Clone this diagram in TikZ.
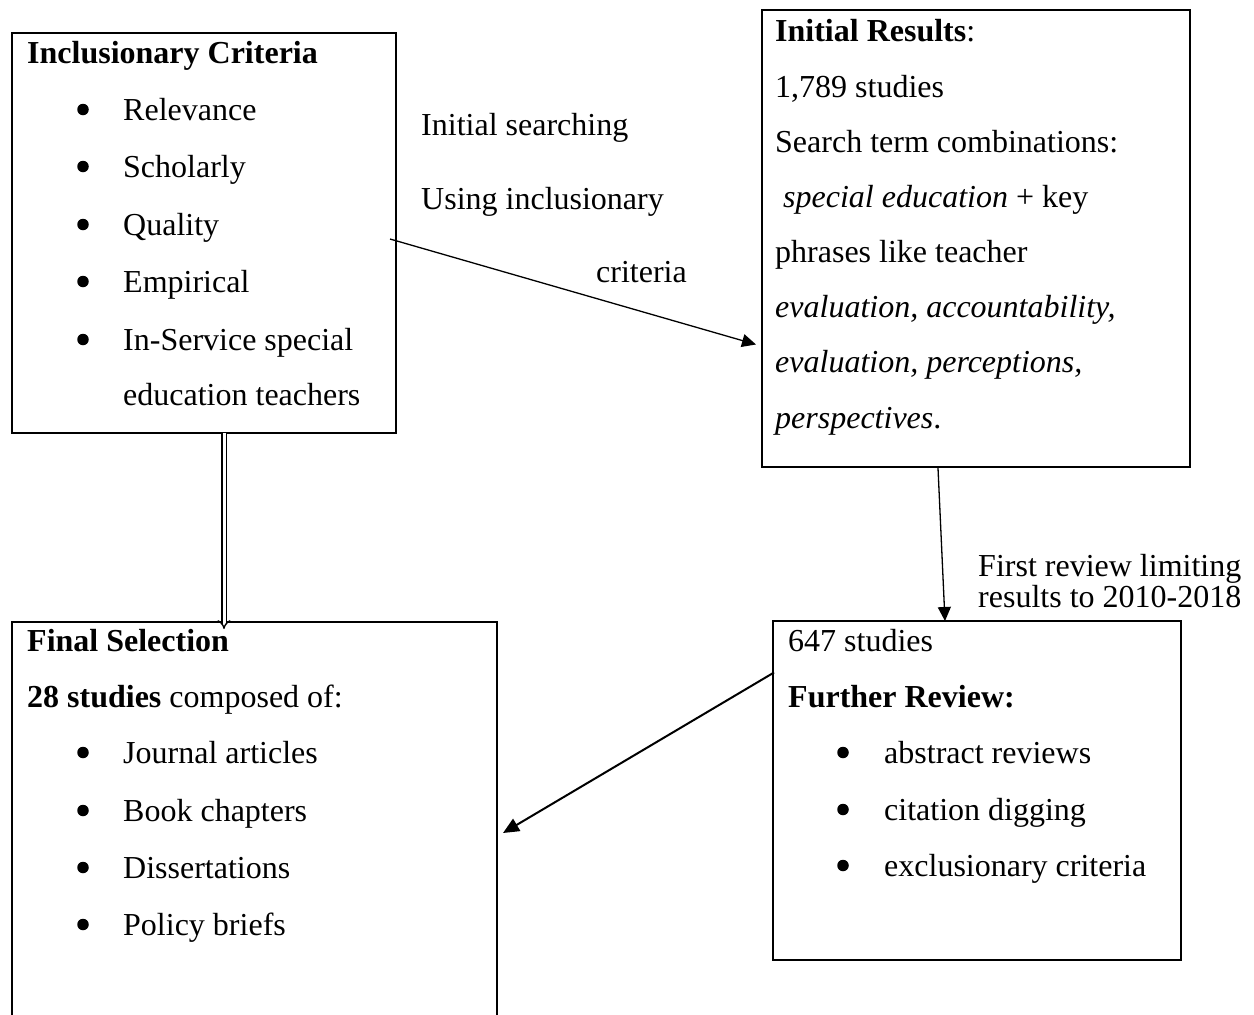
\documentclass[tikz,border=0pt]{standalone}
\usepackage{fontspec}
\setmainfont{Liberation Serif}
\usetikzlibrary{arrows.meta,calc}
\begin{document}
\begin{tikzpicture}[x=1pt,y=-1pt,
  box/.style={draw, line width=2pt, rectangle, anchor=north west, inner sep=0pt, outer sep=0pt},
  txt/.style={anchor=base west, inner sep=0pt, font=\fontsize{32}{36}\selectfont},
  bul/.style={circle, fill=black, inner sep=0pt, minimum size=11.5pt, yshift=10.5pt},
  thinarrow/.style={line width=1.3pt, -{Triangle[length=14pt,width=13pt]}},
  thickarrow/.style={line width=2pt, -{Triangle[length=16pt,width=14pt]}},
  dblarrow/.style={double, double distance=3pt, line width=1.4pt, -{Implies}}
]
\useasboundingbox (0,0) rectangle (1254,1015);

% Box 1: Inclusionary Criteria
\node[box, minimum width=384pt, minimum height=400pt] (inc) at (12,33) {};
\node[txt] (incT) at (27,63) {\bfseries Inclusionary Criteria};
\node[bul] (incB1) at (83,120) {};
\node[txt] (incI1) at (123,120) {Relevance};
\node[bul] (incB2) at (83,177) {};
\node[txt] (incI2) at (123,177) {Scholarly};
\node[bul] (incB3) at (83,235) {};
\node[txt] (incI3) at (123,235) {Quality};
\node[bul] (incB4) at (83,292) {};
\node[txt] (incI4) at (123,292) {Empirical};
\node[bul] (incB5) at (83,350) {};
\node[txt] (incI5) at (123,350) {In-Service special};
\node[txt] (incI6) at (123,405) {education teachers};

% Box 2: Initial Results
\node[box, minimum width=428pt, minimum height=457pt] (res) at (762,10) {};
\node[txt] (resT) at (775,41) {\textbf{Initial Results}:};
\node[txt] (res1) at (775,97) {1,789 studies};
\node[txt] (res2) at (775,152) {Search term combinations:};
\node[txt] (res3) at (775,207) {\ \textit{special education} + key};
\node[txt] (res4) at (775,262) {phrases like teacher};
\node[txt] (res5) at (775,317) {\textit{evaluation, accountability,}};
\node[txt] (res6) at (775,372) {\textit{evaluation, perceptions,}};
\node[txt] (res7) at (775,428) {\textit{perspectives}.};

% Box 3: Further review
\node[box, minimum width=408pt, minimum height=339pt] (rev) at (773,621) {};
\node[txt] (rev1) at (788,651) {647 studies};
\node[txt] (revT) at (788,707) {\bfseries Further Review:};
\node[bul] (revB1) at (843,763) {};
\node[txt] (revI1) at (884,763) {abstract reviews};
\node[bul] (revB2) at (843,820) {};
\node[txt] (revI2) at (884,820) {citation digging};
\node[bul] (revB3) at (843,876) {};
\node[txt] (revI3) at (884,876) {exclusionary criteria};

% Box 4: Final Selection (runs past the bottom edge)
\begin{scope}
\clip (0,0) rectangle (1254,1015);
\node[box, minimum width=485pt, minimum height=420pt] (fin) at (12,622) {};
\end{scope}
\node[txt] (finT) at (27,651) {\bfseries Final Selection};
\node[txt] (fin1) at (27,707) {\textbf{28 studies} composed of:};
\node[bul] (finB1) at (83,763) {};
\node[txt] (finI1) at (123,763) {Journal articles};
\node[bul] (finB2) at (83,821) {};
\node[txt] (finI2) at (123,821) {Book chapters};
\node[bul] (finB3) at (83,878) {};
\node[txt] (finI3) at (123,878) {Dissertations};
\node[bul] (finB4) at (83,935) {};
\node[txt] (finI4) at (123,935) {Policy briefs};

% Side labels
\node[txt] (lab1) at (421,135) {Initial searching};
\node[txt] (lab2) at (421,209) {Using inclusionary};
\node[txt] (lab3) at (596,282) {criteria};
\node[txt] (lab4) at (978,576) {First review limiting};
\node[txt] (lab5) at (978,607) {results to 2010-2018};

% Connectors
\coordinate (a1s) at ([xshift=-6pt,yshift=-6pt]inc.east);
\coordinate (a1e) at ([xshift=-6pt,yshift=-106pt]res.west);
\draw[thinarrow] (a1s) -- (a1e);

\coordinate (a2s) at ([xshift=-38pt,yshift=-1pt]res.south);
\coordinate (a2e) at ([xshift=-32pt]rev.north);
\draw[thinarrow] (a2s) -- (a2e);

\coordinate (a3s) at ([xshift=1pt,yshift=118pt]rev.west);
\coordinate (a3e) at ([xshift=6pt,yshift=-211pt]fin.north east);
\draw[thickarrow] (a3s) -- (a3e);

\coordinate (a4s) at ([xshift=20pt]inc.south);
\coordinate (a4e) at ([xshift=-30.5pt,yshift=-7pt]fin.north);
\draw[dblarrow] (a4s) -- (a4e);
\end{tikzpicture}
\end{document}
